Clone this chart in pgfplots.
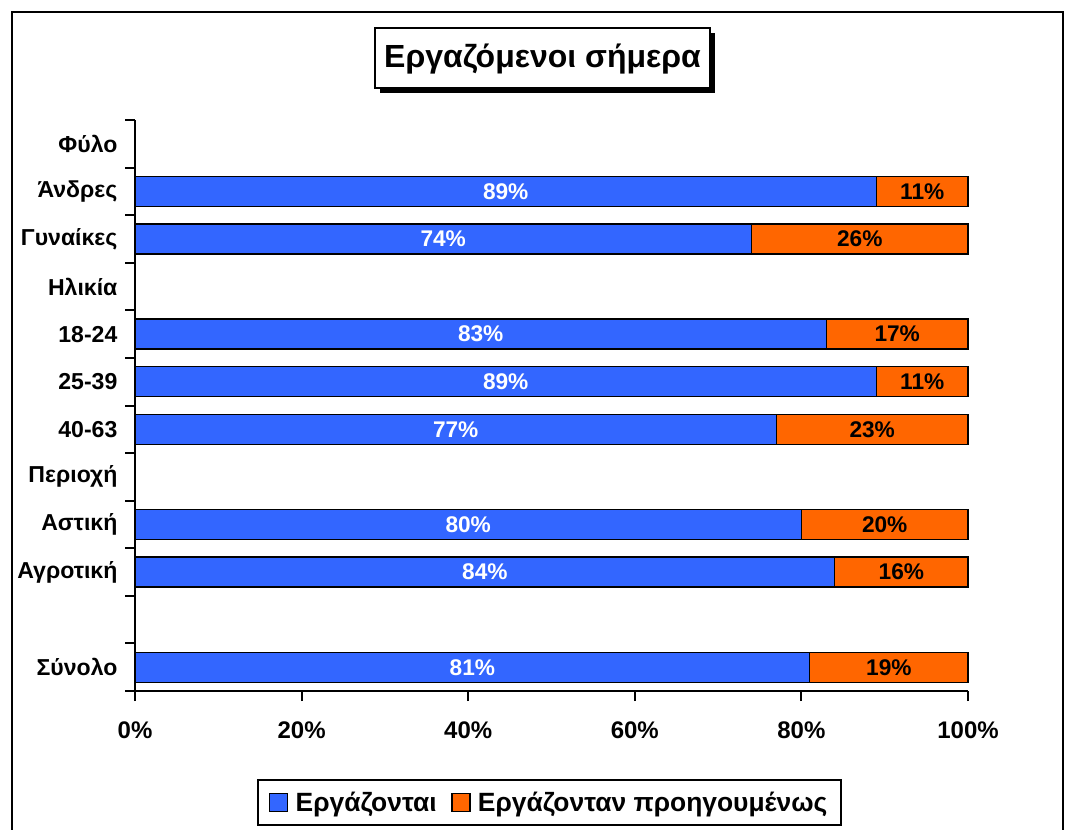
\documentclass[border=0pt]{standalone}
\usepackage{fontspec}
\setmainfont{Liberation Sans}
\usepackage{pgfplots}
\pgfplotsset{compat=1.18}
\definecolor{blueC}{HTML}{3366FF}
\definecolor{orangeC}{HTML}{FF6600}
\pgfplotsset{sqlegend/.style={legend image code/.code={\draw[##1,line width=1pt] (0pt,-6.8pt) rectangle (13.5pt,6.8pt);}}}
\begin{document}
\begin{tikzpicture}[x=0.75pt,y=0.75pt]
\useasboundingbox (0,0) rectangle (1066,829);
\draw[line width=1.5pt] (12,-5) -- (12,817) -- (1063,817) -- (1063,-5);
% title box with shadow
\fill[black] (380,736) rectangle (715,796);
\draw[line width=1.5pt, fill=white] (375,741) rectangle (710,801);
\node[font=\fontsize{24}{28}\selectfont\bfseries, anchor=base, inner sep=0pt] at (542.5,761) {Εργαζόμενοι σήμερα};

\begin{axis}[
  at={(101.25pt,103.5pt)}, anchor=south west,
  scale only axis, width=624.75pt, height=428.25pt,
  xbar stacked, bar width=22.5pt,
  xmin=0, xmax=100, ymin=-0.5, ymax=11.5,
  axis x line=bottom, axis y line=left,
  axis line style={-, line width=1.5pt},
  tick align=outside, major tick length=7.5pt,
  tick style={line width=1.5pt, black},
  xtick={0,20,...,100},
  xticklabel={\pgfmathprintnumber{\tick}\%},
  /pgf/number format/assume math mode=true,
  xticklabel style={font=\fontsize{18}{21}\selectfont\bfseries, inner sep=0pt, yshift=-15pt},
  ytick={-0.5,0.5,...,11.5},
  yticklabels={{},Σύνολο,{},Αγροτική,Αστική,Περιοχή,40-63,25-39,18-24,Ηλικία,Γυναίκες,Άνδρες,Φύλο},
  yticklabel style={font=\fontsize{17.3}{20}\selectfont\bfseries, inner sep=0pt, yshift=-17.85pt, xshift=-5.5pt},
  legend style={at={(0.4976,-0.1953)}, anchor=center, draw=black, line width=1.5pt,
    font=\fontsize{19.8}{23}\selectfont\bfseries, legend columns=2,
    /tikz/every odd column/.append style={column sep=3.5pt},
    /tikz/every even column/.append style={column sep=9pt}, inner xsep=8pt, inner ysep=6.5pt},
  legend cell align=left,
  clip=false,
]
\addplot[fill=blueC, draw=black, line width=1pt, sqlegend] coordinates {
 (89,10) (74,9) (83,7) (89,6) (77,5) (80,3) (84,2) (81,0)};
\addlegendentry{Εργάζονται}
\addplot[fill=orangeC, draw=black, line width=1pt, sqlegend] coordinates {
 (11,10) (26,9) (17,7) (11,6) (23,5) (20,3) (16,2) (19,0)};
\addlegendentry{Εργάζονταν προηγουμένως}
\end{axis}

% overlay axis for centred value labels
\begin{axis}[
  at={(101.25pt,103.5pt)}, anchor=south west,
  scale only axis, width=624.75pt, height=428.25pt,
  xmin=0, xmax=100, ymin=-0.5, ymax=11.5,
  hide axis, clip=false,
]
\addplot[only marks, mark=*, mark size=0pt, mark options={draw=none, fill=none},
  nodes near coords, point meta=explicit symbolic,
  every node near coord/.append style={anchor=center, text=white, font=\fontsize{17}{20}\selectfont\bfseries}]
 coordinates {(44.5,10) [89\%] (37,9) [74\%] (41.5,7) [83\%] (44.5,6) [89\%] (38.5,5) [77\%] (40,3) [80\%] (42,2) [84\%] (40.5,0) [81\%]};
\addplot[only marks, mark=*, mark size=0pt, mark options={draw=none, fill=none},
  nodes near coords, point meta=explicit symbolic,
  every node near coord/.append style={anchor=center, text=black, font=\fontsize{17}{20}\selectfont\bfseries}]
 coordinates {(94.5,10) [11\%] (87,9) [26\%] (91.5,7) [17\%] (94.5,6) [11\%] (88.5,5) [23\%] (90,3) [20\%] (92,2) [16\%] (90.5,0) [19\%]};
\end{axis}
\end{tikzpicture}
\end{document}
